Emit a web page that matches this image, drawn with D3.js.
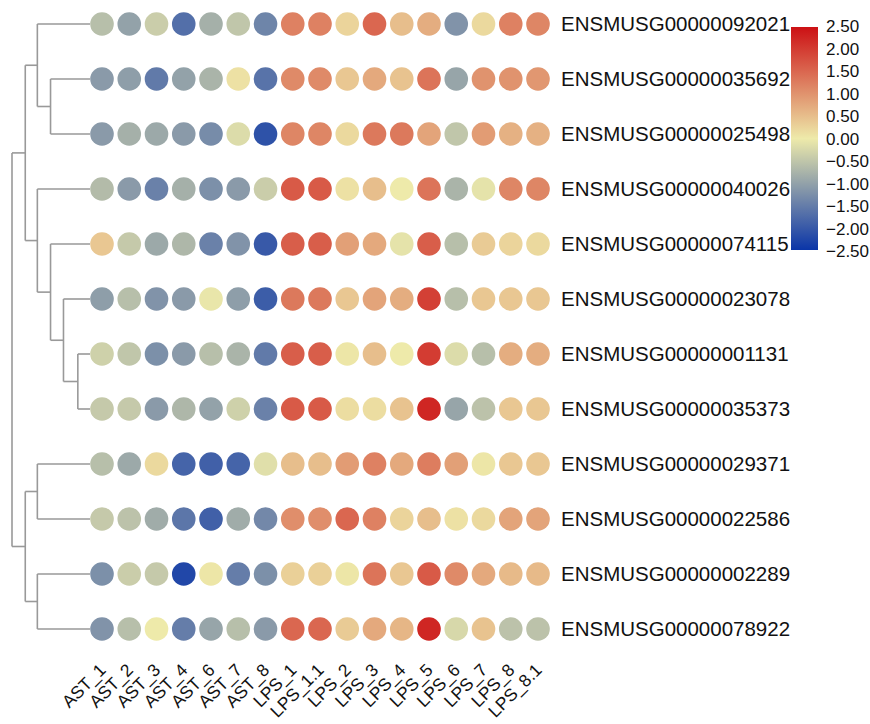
<!DOCTYPE html>
<html>
<head>
<meta charset="utf-8">
<script src="https://cdn.jsdelivr.net/npm/d3@7"></script>
<style>
  body { margin: 0; background: #fff; }
  text { font-family: "Liberation Sans", Arial, sans-serif; fill: #111; }
</style>
</head>
<body>
<div id="chart"></div>
<script>
const samples = ["AST_1", "AST_2", "AST_3", "AST_4", "AST_6", "AST_7", "AST_8",
    "LPS_1", "LPS_1.1", "LPS_2", "LPS_3", "LPS_4", "LPS_5", "LPS_6", "LPS_7", "LPS_8", "LPS_8.1"];

const genes = ["ENSMUSG00000092021", "ENSMUSG00000035692", "ENSMUSG00000025498",
    "ENSMUSG00000040026", "ENSMUSG00000074115", "ENSMUSG00000023078",
    "ENSMUSG00000001131", "ENSMUSG00000035373", "ENSMUSG00000029371",
    "ENSMUSG00000022586", "ENSMUSG00000002289", "ENSMUSG00000078922"];

// z-score per gene (row), one value per sample
const values = [
    [-0.6, -1.0, -0.4, -1.7, -0.8, -0.5, -1.4, 1.2, 1.2, 0.25, 1.5, 0.5, 0.7, -1.2, 0.2, 1.2, 1.15],
    [-1.1, -1.05, -1.55, -1.0, -0.75, 0.1, -1.65, 1.1, 1.1, 0.4, 0.75, 0.45, 1.35, -0.95, 1.0, 1.0, 0.95],
    [-1.1, -0.8, -0.9, -1.1, -1.3, -0.2, -2.1, 1.15, 1.15, 0.2, 1.3, 1.3, 0.8, -0.5, 0.9, 0.65, 0.65],
    [-0.65, -1.1, -1.45, -0.8, -1.25, -1.1, -0.4, 1.65, 1.65, 0.1, 0.5, 0.0, 1.35, -0.75, -0.1, 1.15, 1.15],
    [0.4, -0.45, -0.9, -0.7, -1.45, -1.2, -2.0, 1.6, 1.6, 0.85, 0.75, -0.1, 1.6, -0.6, 0.35, 0.25, 0.2],
    [-1.05, -0.6, -1.2, -1.1, -0.05, -1.05, -1.95, 1.3, 1.3, 0.4, 0.8, 0.7, 1.95, -0.6, 0.4, 0.4, 0.4],
    [-0.35, -0.5, -1.25, -1.1, -0.6, -0.75, -1.55, 1.6, 1.6, 0.05, 0.5, 0.0, 2.0, -0.2, -0.6, 0.7, 0.7],
    [-0.45, -0.45, -1.1, -0.7, -1.0, -0.35, -1.45, 1.65, 1.65, 0.15, 0.15, 0.45, 2.25, -0.95, -0.55, 0.4, 0.4],
    [-0.6, -0.9, 0.2, -1.85, -1.9, -1.85, -0.15, 0.5, 0.5, 0.9, 1.2, 0.75, 1.25, 0.85, 0.05, 0.4, 0.4],
    [-0.45, -0.55, -0.85, -1.6, -1.9, -0.85, -1.35, 1.05, 1.05, 1.5, 1.2, 0.25, 0.5, 0.1, 0.2, 0.8, 0.8],
    [-1.25, -0.4, -0.45, -2.25, 0.05, -1.5, -1.25, 0.3, 0.3, 0.05, 1.35, 0.4, 1.65, 1.1, 0.75, 0.55, 0.55],
    [-1.2, -0.6, 0.0, -1.5, -0.95, -0.6, -1.1, 1.5, 1.5, 0.35, 0.75, 0.6, 2.25, -0.25, 0.45, -0.55, -0.55]
];

const legendTicks = [2.5, 2.0, 1.5, 1.0, 0.5, 0.0, -0.5, -1.0, -1.5, -2.0, -2.5];

// row dendrogram: merge heights (relative), leaves are gene indices
const rowTree = { h: 1.0, children: [
    { h: 0.83, children: [
        { h: 0.675, children: [ { leaf: 0 }, { h: 0.506, children: [ { leaf: 1 }, { leaf: 2 } ] } ] },
        { h: 0.675, children: [ { leaf: 3 },
            { h: 0.506, children: [ { leaf: 4 },
                { h: 0.34, children: [ { leaf: 5 },
                    { h: 0.156, children: [ { leaf: 6 }, { leaf: 7 } ] } ] } ] } ] }
    ] },
    { h: 0.83, children: [
        { h: 0.675, children: [ { leaf: 8 }, { leaf: 9 } ] },
        { h: 0.675, children: [ { leaf: 10 }, { leaf: 11 } ] }
    ] }
] };

const width = 870, height = 724;

const svg = d3.select("#chart")
    .append("svg")
        .attr("width", width)
        .attr("height", height);

const x = d3.scalePoint()
    .domain(samples)
    .range([102, 538]);

const y = d3.scalePoint()
    .domain(genes)
    .range([24, 629]);

const color = d3.scaleLinear()
    .domain([-2.5, 0, 2.5])
    .range(["#0a35a8", "#eeeaaa", "#cc1014"])
    .clamp(true);

const cells = [];
values.forEach((row, i) => row.forEach((v, j) => cells.push({ gene: genes[i], sample: samples[j], v: v })));

// Dendrogram
const dx = d3.scaleLinear().domain([0, 1]).range([90, 12]);
const root = d3.hierarchy(rowTree);
root.eachAfter(n => {
    if (n.data.leaf !== undefined) {
        n.py = y(genes[n.data.leaf]);
        n.hh = 0;
    } else {
        n.py = d3.mean(n.children, c => c.py);
        n.hh = n.data.h;
    }
});

const dendro = svg.append("g")
    .attr("fill", "none")
    .attr("stroke", "#999")
    .attr("stroke-width", 1.6);

root.descendants().filter(n => n.children).forEach(n => {
    const ys = n.children.map(c => c.py);
    dendro.append("line")
        .attr("x1", dx(n.hh)).attr("x2", dx(n.hh))
        .attr("y1", d3.min(ys)).attr("y2", d3.max(ys));
    n.children.forEach(c => {
        dendro.append("line")
            .attr("x1", dx(n.hh)).attr("x2", dx(c.hh))
            .attr("y1", c.py).attr("y2", c.py);
    });
});

// Bubbles
svg.append("g")
    .selectAll("circle")
    .data(cells)
    .enter()
    .append("circle")
        .attr("cx", d => x(d.sample))
        .attr("cy", d => y(d.gene))
        .attr("r", 11.8)
        .attr("fill", d => color(d.v));

// Gene labels
svg.append("g")
    .selectAll("text")
    .data(genes)
    .enter()
    .append("text")
        .attr("x", 561)
        .attr("y", d => y(d) + 7)
        .style("font-size", "20.5px")
        .text(d => d);

// Sample labels
svg.append("g")
    .selectAll("text")
    .data(samples)
    .enter()
    .append("text")
        .attr("text-anchor", "end")
        .attr("transform", d => `translate(${x(d) + 5}, 671) rotate(-45)`)
        .style("font-size", "17.5px")
        .text(d => d);

// Colour bar
const barTop = 27, barBottom = 250, barX = 791, barW = 27;
const grad = svg.append("defs")
    .append("linearGradient")
        .attr("id", "grad")
        .attr("x1", 0).attr("y1", 1)
        .attr("x2", 0).attr("y2", 0);
d3.range(0, 1.0001, 0.1).forEach(t => {
    grad.append("stop")
        .attr("offset", t)
        .attr("stop-color", color(-2.5 + 5 * t));
});

svg.append("rect")
    .attr("x", barX)
    .attr("y", barTop)
    .attr("width", barW)
    .attr("height", barBottom - barTop)
    .attr("fill", "url(#grad)");

const ly = d3.scaleLinear().domain([2.5, -2.5]).range([26, 251]);
svg.append("g")
    .selectAll("text")
    .data(legendTicks)
    .enter()
    .append("text")
        .attr("x", 826)
        .attr("y", d => ly(d) + 6)
        .style("font-size", "17px")
        .text(d => d3.format(".2f")(d));
</script>
</body>
</html>
